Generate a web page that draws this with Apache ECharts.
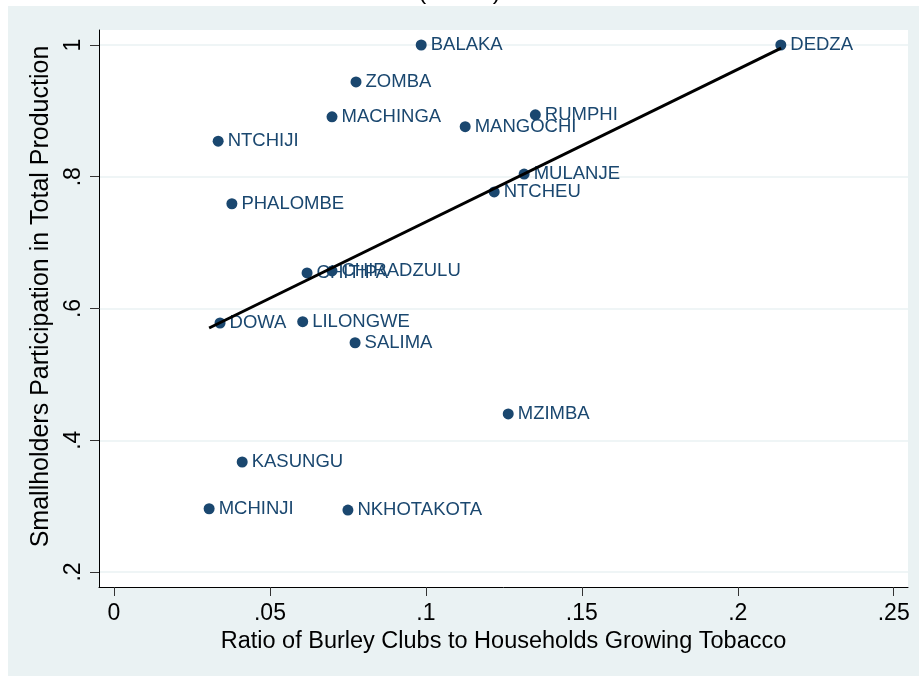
<!DOCTYPE html>
<html>
<head>
<meta charset="utf-8">
<script src="https://cdn.jsdelivr.net/npm/echarts@6/dist/echarts.min.js"></script>
<style>
html,body{margin:0;padding:0;background:#fff;}
#chart{width:919px;height:676px;}
</style>
</head>
<body>
<div id="chart"></div>
<script>
// ---- data ----
const districts = ["BALAKA","DEDZA","ZOMBA","MACHINGA","RUMPHI","MANGOCHI","NTCHIJI","MULANJE","NTCHEU","PHALOMBE","CHITIPA","CHIRADZULU","DOWA","LILONGWE","SALIMA","MZIMBA","KASUNGU","MCHINJI","NKHOTAKOTA"];
const clubRatio = [0.0985,0.2138,0.0776,0.0699,0.1351,0.1126,0.0334,0.1315,0.1219,0.0378,0.0619,0.0699,0.0340,0.0605,0.0773,0.1264,0.0411,0.0305,0.0750];
const smallholderShare = [1.000,1.000,0.944,0.891,0.894,0.876,0.854,0.804,0.777,0.759,0.654,0.657,0.578,0.580,0.548,0.440,0.367,0.296,0.294];
const fitX = [0.0305, 0.2139];
const fitY = [0.5704, 0.9954];
const xTicks = [0, 0.05, 0.1, 0.15, 0.2, 0.25];
const yTicks = [0.2, 0.4, 0.6, 0.8, 1];
const xTitle = "Ratio of Burley Clubs to Households Growing Tobacco";
const yTitle = "Smallholders Participation in Total Production";
const captionText = "(          )";

function fmt(v){
  if (v === 0) return "0";
  let s = String(Math.round(v*1000)/1000);
  if (s.startsWith("0.")) s = s.slice(1);
  return s;
}

const FONT = "'Liberation Sans', Arial, Helvetica, sans-serif";
const NAVY = "#1A476F";
const BG = "#EAF2F3";

const chart = echarts.init(document.getElementById('chart'), null, {renderer:'canvas'});
const option = {
  backgroundColor: '#fff',
  animation: false,
  textStyle: {fontFamily: FONT},
  graphic: [
    {type:'text', z:-30, left: 'center', top: -20,
     style:{text: captionText, font: "24px " + FONT, fill:'#000'}},
    {type:'rect', z:-20, shape:{x:8, y:6, width:911, height:670}, style:{fill:BG}}
  ],
  grid: {left:99, top:30, right:11, bottom:89, show:true, backgroundColor:'#fff', borderWidth:0},
  xAxis: {
    type:'value', min:-0.00481, max:0.25458,
    name: xTitle, nameLocation:'middle', nameGap:37,
    nameTextStyle:{fontSize:23.5, color:'#000', fontFamily:FONT},
    axisLine:{show:true, onZero:false, lineStyle:{color:'#000', width:1}},
    axisTick:{show:true, length:9, customValues: xTicks, lineStyle:{color:'#333'}},
    axisLabel:{customValues: xTicks, formatter: fmt, fontSize:23, color:'#000', margin:15, fontFamily:FONT},
    splitLine:{show:false}
  },
  yAxis: {
    type:'value', min:0.17723, max:1.02277,
    name: yTitle, nameLocation:'middle', nameGap:36,
    nameTextStyle:{fontSize:25, color:'#000', fontFamily:FONT, padding:[0,0,0,24]},
    axisLine:{show:true, onZero:false, lineStyle:{color:'#000', width:1}},
    axisTick:{show:true, length:9, customValues: yTicks, lineStyle:{color:'#333'}},
    axisLabel:{customValues: yTicks, formatter: fmt, rotate:90, fontSize:23, color:'#000', margin:14, fontFamily:FONT},
    splitLine:{show:true, lineStyle:{color:BG, width:1.5}}
  },
  series: [
    {
      type:'scatter', symbol:'circle', symbolSize:11,
      itemStyle:{color:NAVY, opacity:1},
      data: clubRatio.map((x,i)=>[x, smallholderShare[i]]),
      label:{show:true, position:'right', distance:4, fontSize:18.5, color:NAVY, fontFamily:FONT,
             formatter: p => districts[p.dataIndex]},
      labelLayout:{hideOverlap:false},
      z:3
    },
    {
      type:'line', symbol:'none',
      data: fitX.map((x,i)=>[x, fitY[i]]),
      lineStyle:{color:'#000', width:3},
      z:4
    }
  ]
};
chart.setOption(option);
</script>
</body>
</html>
